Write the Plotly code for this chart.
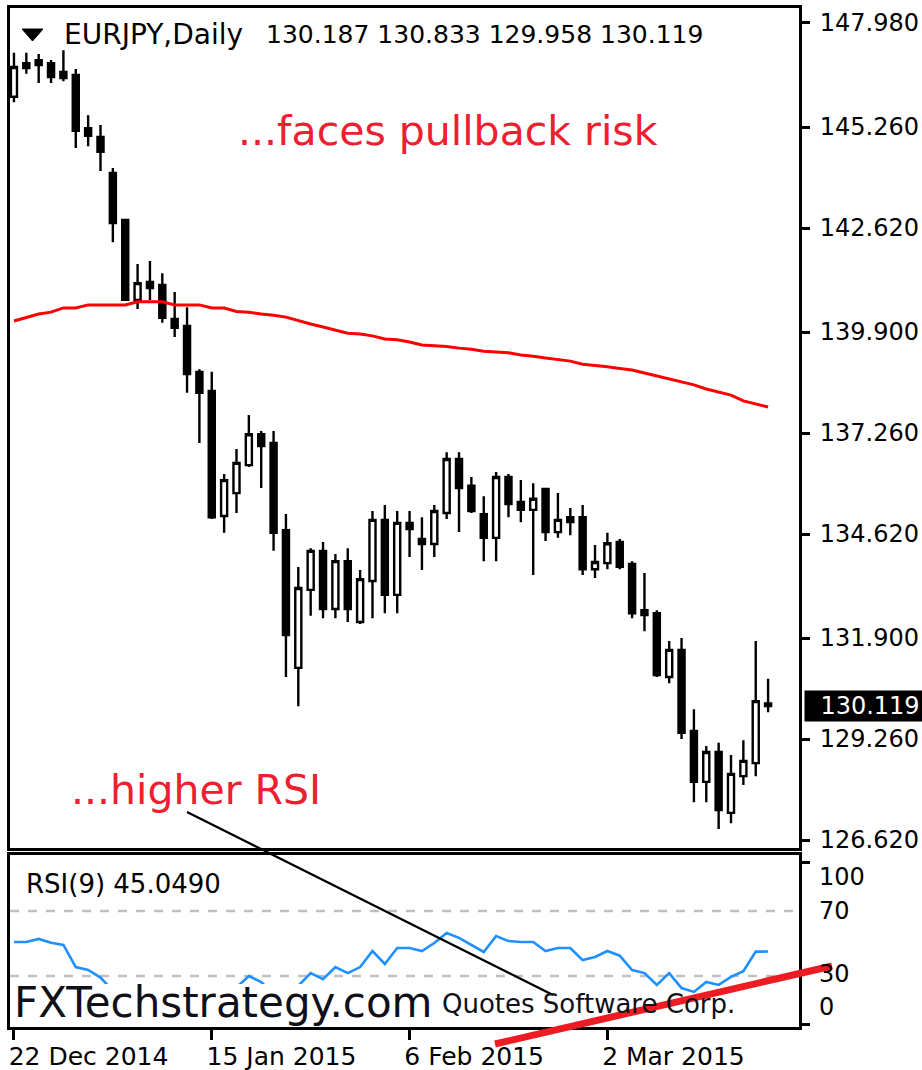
import plotly.graph_objects as go

# ---------------- data ----------------
dates = [
    "2014-12-22", "2014-12-23", "2014-12-24", "2014-12-26", "2014-12-29", "2014-12-30", "2014-12-31",
    "2015-01-02", "2015-01-05", "2015-01-06", "2015-01-07", "2015-01-08", "2015-01-09", "2015-01-12",
    "2015-01-13", "2015-01-14", "2015-01-15", "2015-01-16", "2015-01-19", "2015-01-20", "2015-01-21",
    "2015-01-22", "2015-01-23", "2015-01-26", "2015-01-27", "2015-01-28", "2015-01-29", "2015-01-30",
    "2015-02-02", "2015-02-03", "2015-02-04", "2015-02-05", "2015-02-06", "2015-02-09", "2015-02-10",
    "2015-02-11", "2015-02-12", "2015-02-13", "2015-02-16", "2015-02-17", "2015-02-18", "2015-02-19",
    "2015-02-20", "2015-02-23", "2015-02-24", "2015-02-25", "2015-02-26", "2015-02-27", "2015-03-02",
    "2015-03-03", "2015-03-04", "2015-03-05", "2015-03-06", "2015-03-09", "2015-03-10", "2015-03-11",
    "2015-03-12", "2015-03-13", "2015-03-16", "2015-03-17", "2015-03-18", "2015-03-19",
]

open_ = [146.05, 146.93, 147.01, 146.93, 146.70, 146.62, 145.23, 145.00, 144.06, 142.83,
         140.74, 141.21, 141.13, 140.24, 140.06, 138.86, 138.36, 135.09, 135.69, 136.42,
         137.23, 137.00, 134.72, 131.12, 133.16, 134.18, 132.66, 133.91, 132.32, 133.39,
         134.99, 133.03, 134.91, 134.49, 134.36, 135.17, 136.58, 135.88, 135.14, 134.52,
         136.11, 135.46, 135.25, 135.80, 134.67, 135.06, 135.06, 133.70, 133.86, 134.41,
         133.84, 132.63, 132.55, 130.88, 131.59, 129.47, 128.14, 128.92, 127.33, 128.29,
         128.63, 130.187]
high = [147.20, 147.20, 147.17, 147.01, 147.27, 146.78, 145.57, 145.31, 144.19, 142.85,
        141.68, 141.76, 141.44, 140.95, 140.55, 138.93, 138.86, 136.19, 136.84, 137.73,
        137.31, 137.31, 135.14, 133.76, 134.25, 134.41, 134.10, 134.25, 133.68, 135.22,
        135.38, 135.22, 135.22, 135.06, 135.38, 136.76, 136.76, 136.11, 135.61, 136.24,
        136.19, 136.03, 135.95, 135.82, 135.69, 135.30, 135.38, 134.33, 134.65, 134.49,
        133.91, 133.60, 132.63, 131.82, 131.90, 130.04, 129.08, 129.16, 128.84, 129.23,
        131.82, 130.833]
low = [145.91, 146.65, 146.41, 146.41, 146.46, 144.71, 144.76, 144.11, 142.25, 140.72,
       140.50, 140.74, 140.14, 139.77, 138.31, 137.00, 135.01, 134.65, 135.17, 136.37,
       135.82, 134.18, 130.88, 130.12, 132.48, 132.42, 132.42, 132.32, 132.27, 132.42,
       132.55, 132.55, 134.02, 133.68, 134.02, 135.01, 134.67, 135.17, 133.91, 133.91,
       135.06, 134.93, 133.55, 134.44, 134.52, 134.59, 133.55, 133.47, 133.70, 133.70,
       132.42, 132.08, 130.88, 130.72, 129.26, 127.61, 127.61, 126.91, 127.06, 128.06,
       128.29, 129.958]
close = [146.83, 146.80, 146.88, 146.57, 146.54, 145.16, 145.03, 144.61, 142.75, 140.74,
         141.18, 141.05, 140.27, 140.01, 138.80, 138.31, 135.06, 136.03, 136.48, 137.23,
         136.92, 134.65, 131.98, 133.21, 134.18, 132.66, 133.91, 132.66, 133.44, 134.99,
         133.03, 134.91, 134.75, 134.36, 135.22, 136.58, 135.82, 135.22, 134.52, 136.11,
         135.40, 135.25, 135.54, 134.67, 134.99, 134.93, 133.70, 133.89, 134.38, 133.76,
         132.55, 132.50, 130.93, 131.59, 129.42, 128.14, 128.92, 127.40, 128.35, 128.69,
         130.25, 130.119]

ma = [140.19, 140.29, 140.37, 140.42, 140.53, 140.53, 140.61, 140.61, 140.61, 140.61,
      140.69, 140.69, 140.69, 140.61, 140.61, 140.61, 140.53, 140.53, 140.44, 140.42,
      140.37, 140.34, 140.29, 140.19, 140.11, 140.03, 139.95, 139.87, 139.85, 139.80,
      139.72, 139.70, 139.64, 139.56, 139.54, 139.52, 139.48, 139.45, 139.40, 139.38,
      139.36, 139.30, 139.27, 139.22, 139.18, 139.14, 139.06, 139.03, 138.99, 138.95,
      138.91, 138.83, 138.75, 138.67, 138.60, 138.52, 138.41, 138.33, 138.25, 138.10,
      138.02, 137.94]

rsi = [50.9, 50.9, 52.8, 50.5, 49.1, 35.5, 33.7, 29.0, 21.0, 14.0,
       19.0, 18.0, 15.0, 14.0, 11.0, 10.0, 7.0, 17.0, 23.0, 30.0,
       26.3, 19.0, 13.0, 24.0, 31.8, 28.0, 35.5, 31.8, 35.5, 45.4,
       37.4, 47.2, 47.2, 45.4, 50.3, 56.5, 53.5, 49.0, 44.8, 54.6,
       51.5, 50.9, 50.9, 45.4, 47.2, 47.2, 39.8, 41.7, 45.4, 42.5,
       33.7, 31.8, 24.5, 31.8, 22.6, 20.2, 26.3, 24.5, 29.5, 33.0,
       45.0, 45.049]

price_ticks = [147.98, 145.26, 142.62, 139.90, 137.26, 134.62, 131.90, 129.26, 126.62]
date_tick_vals = ["2014-12-22", "2015-01-15", "2015-02-06", "2015-03-02"]
date_tick_text = ["22 Dec 2014", "15 Jan 2015", "6 Feb 2015", "2 Mar 2015"]
rsi_levels = [100, 70, 30, 0]
rsi_level_text = ["100", "70", "30", "0"]
header_name = "EURJPY,Daily"
header_ohlc = "130.187 130.833 129.958 130.119"
last_price = 130.119
rsi_title = "RSI(9) 45.0490"

# ---------------- geometry helpers (pixel -> paper) ----------------
W, H = 922, 1070
def px(x):
    return x / W
def py(y):
    return 1 - y / H

FONT = "DejaVu Sans"
X_RANGE = [-0.32, 63.5]

fig = go.Figure()

fig.add_trace(go.Scatter(
    x=dates, y=ma, mode="lines", line=dict(color="#FF0000", width=3),
    xaxis="x", yaxis="y", hoverinfo="skip", showlegend=False))

fig.add_trace(go.Candlestick(
    x=dates, open=open_, high=high, low=low, close=close,
    increasing=dict(line=dict(color="black", width=2.4), fillcolor="white"),
    decreasing=dict(line=dict(color="black", width=2.4), fillcolor="black"),
    xaxis="x", yaxis="y", showlegend=False))

fig.add_trace(go.Scatter(
    x=dates, y=rsi, mode="lines", line=dict(color="#1E90FF", width=2.6),
    xaxis="x2", yaxis="y2", hoverinfo="skip", showlegend=False))

axis_common = dict(showline=True, mirror=True, linecolor="black", linewidth=3,
                   showgrid=False, zeroline=False, automargin=False)

fig.update_layout(
    width=W, height=H, autosize=False,
    margin=dict(l=0, r=0, t=0, b=0, pad=0),
    paper_bgcolor="white", plot_bgcolor="white",
    font=dict(family=FONT, color="black"),
    showlegend=False,
    xaxis=dict(domain=[px(10), px(799)], anchor="y", type="category",
               categoryorder="array", categoryarray=dates,
               range=X_RANGE, showticklabels=False, ticks="",
               rangeslider=dict(visible=False), **axis_common),
    yaxis=dict(domain=[py(848), py(8)], anchor="x", side="right",
               range=[126.411, 148.372],
               tickvals=price_ticks, ticktext=[f"{v:.3f}" for v in price_ticks],
               ticks="outside", ticklen=8, tickwidth=2.5, tickcolor="black",
               tickfont=dict(family=FONT, size=24, color="black"),
               ticklabelstandoff=5, **axis_common),
    xaxis2=dict(domain=[px(10), px(799)], anchor="y2", type="category",
                categoryorder="array", categoryarray=dates,
                range=X_RANGE, tickvals=date_tick_vals, ticktext=date_tick_text,
                ticks="outside", ticklen=10, tickwidth=2.5, tickcolor="black",
                ticklabelposition="outside right", ticklabelshift=-8,
                ticklabelstandoff=5,
                tickfont=dict(family=FONT, size=25, color="black"),
                **axis_common),
    yaxis2=dict(domain=[py(1027), py(855)], anchor="x2", side="right",
                range=[-1.4, 104.5], tickvals=[100, 0], showticklabels=False,
                ticks="outside", ticklen=8, tickwidth=2.5, tickcolor="black",
                **axis_common),
)

shapes = []
# RSI level lines
for lvl in (70, 30):
    shapes.append(dict(type="line", xref="x2 domain", yref="y2", x0=0, x1=1, y0=lvl, y1=lvl,
                       line=dict(color="#C0C0C0", width=2.6, dash="9px,9px"), layer="below"))
# white box behind the watermark (hides RSI line)
shapes.append(dict(type="rect", xref="paper", yref="paper",
                   x0=px(12), x1=px(443), y0=py(1024), y1=py(984),
                   fillcolor="white", line=dict(width=0), layer="above"))
# header triangle
shapes.append(dict(type="path", xref="paper", yref="paper",
                   path=f"M {px(22)},{py(29)} L {px(43)},{py(29)} L {px(32.5)},{py(41)} Z",
                   fillcolor="black", line=dict(color="black", width=1)))
# drawn black trend line
shapes.append(dict(type="line", xref="paper", yref="paper",
                   x0=px(187), y0=py(812), x1=px(553), y1=py(995),
                   line=dict(color="black", width=2.2), layer="above"))
# drawn red thick line
shapes.append(dict(type="line", xref="paper", yref="paper",
                   x0=px(495), y0=py(1044), x1=px(832), y1=py(966),
                   line=dict(color="#ED1C24", width=7), layer="above"))
fig.update_layout(shapes=shapes)

ann = []
ann.append(dict(xref="paper", yref="paper", x=px(62), y=py(35), xanchor="left", yanchor="middle",
                text=header_name, showarrow=False, font=dict(family=FONT, size=28, color="black")))
ann.append(dict(xref="paper", yref="paper", x=px(264), y=py(35), xanchor="left", yanchor="middle",
                text=header_ohlc, showarrow=False, font=dict(family=FONT, size=25, color="black")))
ann.append(dict(xref="paper", yref="paper", x=px(236), y=py(131), xanchor="left", yanchor="middle",
                text="...faces pullback risk", showarrow=False,
                font=dict(family=FONT, size=41, color="#EE2030")))
ann.append(dict(xref="paper", yref="paper", x=px(69), y=py(790), xanchor="left", yanchor="middle",
                text="...higher RSI", showarrow=False,
                font=dict(family=FONT, size=41, color="#EE2030")))
ann.append(dict(xref="paper", yref="paper", x=px(24), y=py(884), xanchor="left", yanchor="middle",
                text=rsi_title, showarrow=False, font=dict(family=FONT, size=26, color="black")))
ann.append(dict(xref="paper", yref="paper", x=px(12), y=py(1002), xanchor="left", yanchor="middle",
                text="FXTechstrategy.com", showarrow=False,
                font=dict(family=FONT, size=42, color="#101018")))
ann.append(dict(xref="paper", yref="paper", x=px(440), y=py(1004), xanchor="left", yanchor="middle",
                text="Quotes Software Corp.", showarrow=False,
                font=dict(family=FONT, size=26, color="#101018")))
# current price box
ann.append(dict(xref="paper", yref="y", x=px(804), y=last_price, xanchor="left", yanchor="middle",
                text=f"{last_price:.3f}", showarrow=False, bgcolor="black", borderpad=1,
                width=128, align="center", font=dict(family=FONT, size=24, color="white")))
# RSI level labels
rsi_shift = {100: -15, 70: 0, 30: 2, 0: 18}
for lvl, txt in zip(rsi_levels, rsi_level_text):
    ann.append(dict(xref="paper", yref="y2", x=px(817), y=lvl, xanchor="left", yanchor="middle",
                    yshift=rsi_shift[lvl], text=txt, showarrow=False,
                    font=dict(family=FONT, size=24, color="black")))
fig.update_layout(annotations=ann)

fig.write_html("out.html", include_plotlyjs=True, config={"displayModeBar": False},
               post_script="document.body.style.margin='0';document.body.style.overflow='hidden';")
